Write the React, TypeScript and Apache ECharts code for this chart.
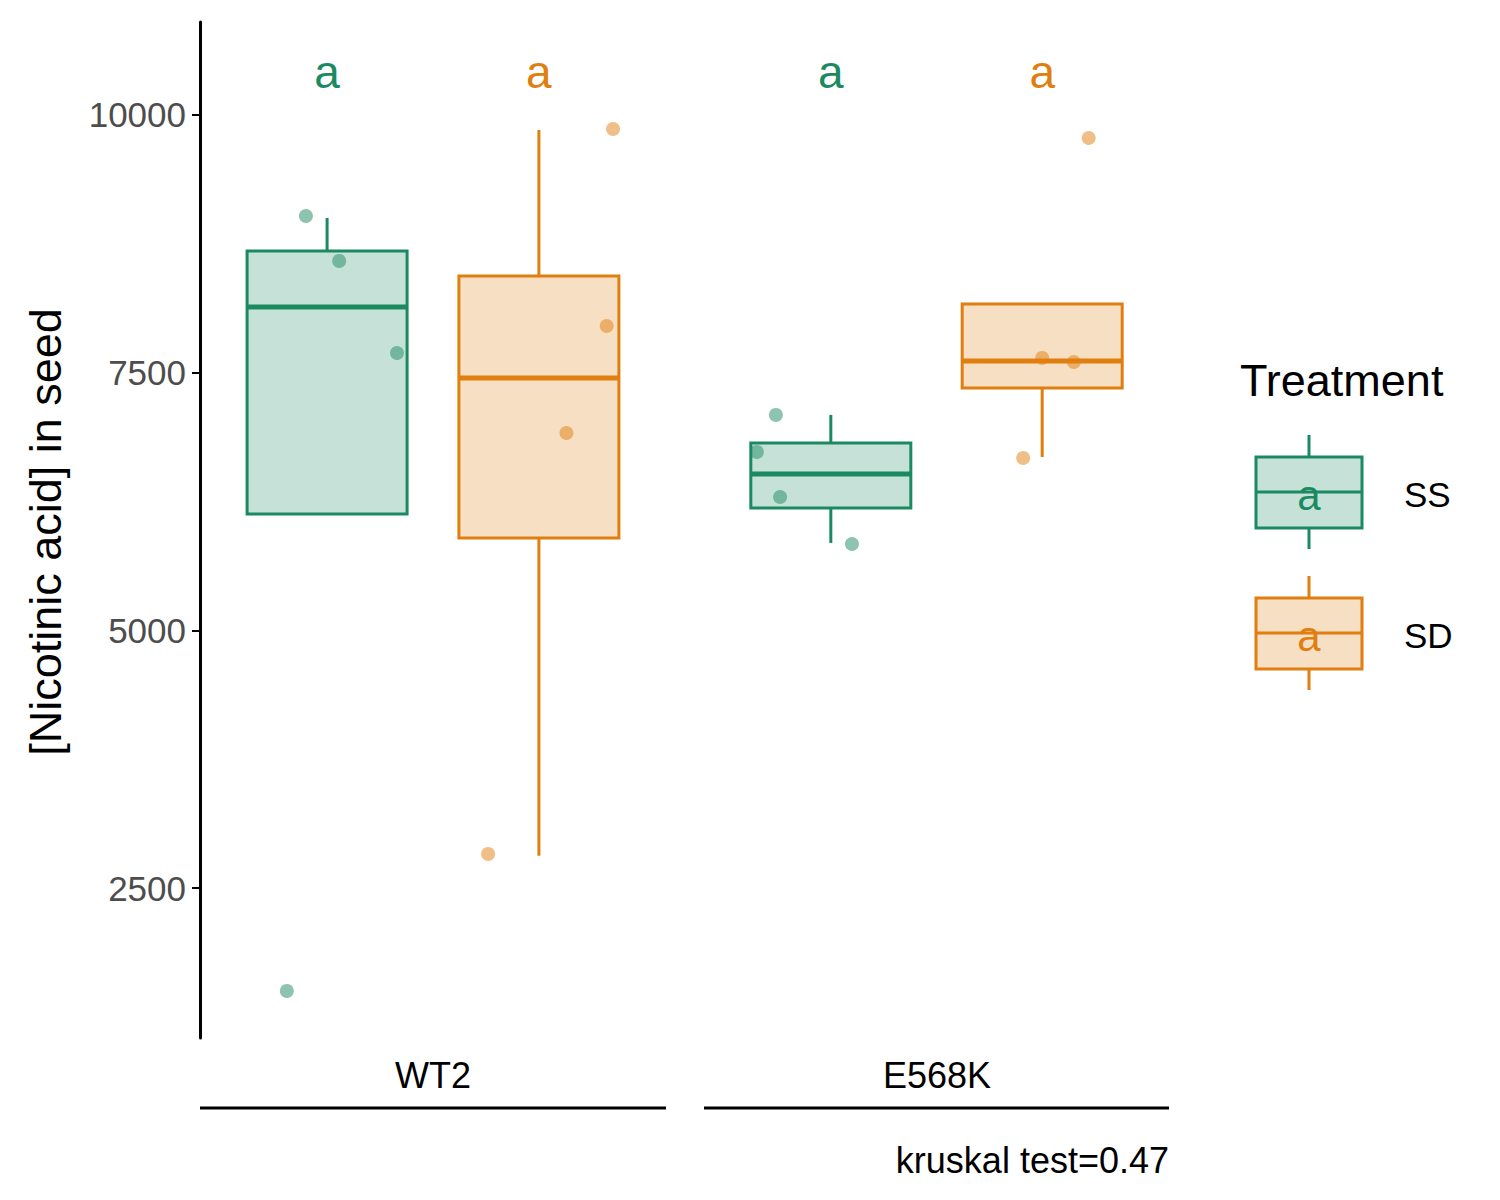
import React, { useEffect, useRef } from 'react';
import * as echarts from 'echarts';

const facets = ['WT2', 'E568K'];
const treatments = ['SS', 'SD'];
// [min, q1, median, q3, max] per facet, per treatment
const boxStats = [
  [[6129, 6129, 8137, 8681, 9001], [2812, 5896, 7449, 8438, 9854]],
  [[5848, 6187, 6517, 6818, 7090], [6682, 7352, 7614, 8166, 8166]],
];
// jittered points: [x offset, value]
const pointsData = [
  [
    [[-0.1, 9020], [0.057, 8584], [0.33, 7691], [-0.19, 1502]],
    [[0.35, 9864], [0.32, 7953], [0.13, 6915], [-0.24, 2831]],
  ],
  [
    [[-0.26, 7090], [-0.35, 6731], [-0.24, 6294], [0.1, 5838]],
    [[0.0, 7643], [0.15, 7604], [-0.09, 6672], [0.22, 9777]],
  ],
];
const letters = ['a', 'a'];
const yTicks = [2500, 5000, 7500, 10000];
const colors = ['#1B8A62', '#E07F10'];
const fills = ['rgba(27,138,98,0.25)', 'rgba(224,127,16,0.25)'];
const ptColors = ['rgba(27,138,98,0.5)', 'rgba(224,127,16,0.5)'];

const FONT = 'Liberation Sans, Arial, sans-serif';

export default function App() {
  const ref = useRef<HTMLDivElement | null>(null);
  useEffect(() => {
    if (!ref.current) return;
    const chart = echarts.init(ref.current, null, { renderer: 'svg' });
    const grids = [
      { left: 200, width: 466, top: 22, height: 1016 },
      { left: 704, width: 465, top: 22, height: 1016 },
    ];
    const xAxis = grids.map((_, i) => ({
      type: 'value', gridIndex: i, min: -0.6, max: 1.6, show: false,
    }));
    const yAxis = grids.map((_, i) => ({
      type: 'value', gridIndex: i, min: 1045, max: 10902,
      show: i === 0,
      splitLine: { show: false },
      axisLine: { show: true, onZero: false, lineStyle: { color: '#000', width: 3 } },
      axisTick: { show: true, length: 8, lineStyle: { color: '#000', width: 2 }, customValues: yTicks },
      axisLabel: {
        color: '#4D4D4D', fontSize: 35, fontFamily: FONT, margin: 14, customValues: yTicks,
        formatter: (v: number) => String(v),
      },
    }));
    const series: any[] = [];
    facets.forEach((_, fi) => {
      treatments.forEach((t, ti) => {
        const s = boxStats[fi][ti];
        series.push({
          type: 'custom', xAxisIndex: fi, yAxisIndex: fi, name: t,
          data: [[ti, ...s]],
          renderItem: (params: any, api: any) => {
            const x = api.value(0);
            const cx = api.coord([x, api.value(3)])[0];
            const hw = 80;
            const y = (v: number) => api.coord([x, v])[1];
            const mn = y(api.value(1)), q1 = y(api.value(2)), md = y(api.value(3)), q3 = y(api.value(4)), mx = y(api.value(5));
            const ls = { stroke: colors[ti], lineWidth: 3 };
            return {
              type: 'group',
              children: [
                { type: 'line', shape: { x1: cx, y1: q3, x2: cx, y2: mx }, style: ls },
                { type: 'line', shape: { x1: cx, y1: q1, x2: cx, y2: mn }, style: ls },
                { type: 'rect', shape: { x: cx - hw, y: q3, width: hw * 2, height: q1 - q3 }, style: { fill: fills[ti], stroke: colors[ti], lineWidth: 3 } },
                { type: 'line', shape: { x1: cx - hw, y1: md, x2: cx + hw, y2: md }, style: { stroke: colors[ti], lineWidth: 5 } },
              ],
            };
          },
        });
        series.push({
          type: 'scatter', xAxisIndex: fi, yAxisIndex: fi,
          data: pointsData[fi][ti].map(([dx, v]) => [ti + dx, v]),
          symbolSize: 14, itemStyle: { color: ptColors[ti], opacity: 1 },
        });
        series.push({
          type: 'scatter', xAxisIndex: fi, yAxisIndex: fi,
          data: [[ti, 10417]], symbolSize: 0, itemStyle: { opacity: 1 },
          label: { show: true, position: 'inside', formatter: letters[ti], color: colors[ti], fontSize: 46, fontFamily: FONT },
        });
      });
    });

    const legendKey = (i: number, top: number) => ({
      type: 'group', x: 1256, y: top,
      children: [
        { type: 'line', shape: { x1: 53, y1: -22, x2: 53, y2: 0 }, style: { stroke: colors[i], lineWidth: 3 } },
        { type: 'line', shape: { x1: 53, y1: 71, x2: 53, y2: 92 }, style: { stroke: colors[i], lineWidth: 3 } },
        { type: 'rect', shape: { x: 0, y: 0, width: 106, height: 71 }, style: { fill: fills[i], stroke: colors[i], lineWidth: 3 } },
        { type: 'line', shape: { x1: 0, y1: 35, x2: 106, y2: 35 }, style: { stroke: colors[i], lineWidth: 3 } },
        { type: 'text', x: 53, y: 38, style: { text: 'a', fill: colors[i], font: `42px ${FONT}`, align: 'center', verticalAlign: 'middle' } },
        { type: 'text', x: 148, y: 37, style: { text: treatments[i], fill: '#000', font: `35px ${FONT}`, verticalAlign: 'middle' } },
      ],
    });

    chart.setOption({
      animation: false,
      grid: grids,
      xAxis, yAxis, series,
      graphic: [
        { type: 'text', x: 1240, y: 380, style: { text: 'Treatment', fill: '#000', font: `45px ${FONT}`, verticalAlign: 'middle' } },
        legendKey(0, 457),
        legendKey(1, 598),
        { type: 'text', x: 45, y: 532, rotation: Math.PI / 2, style: { text: '[Nicotinic acid] in seed', fill: '#000', font: `45px ${FONT}`, align: 'center', verticalAlign: 'middle' } },
        { type: 'text', x: 433, y: 1075, style: { text: facets[0], fill: '#000', font: `36px ${FONT}`, align: 'center', verticalAlign: 'middle' } },
        { type: 'text', x: 937, y: 1075, style: { text: facets[1], fill: '#000', font: `36px ${FONT}`, align: 'center', verticalAlign: 'middle' } },
        { type: 'line', shape: { x1: 200, y1: 1108, x2: 666, y2: 1108 }, style: { stroke: '#000', lineWidth: 3 } },
        { type: 'line', shape: { x1: 704, y1: 1108, x2: 1169, y2: 1108 }, style: { stroke: '#000', lineWidth: 3 } },
        { type: 'text', x: 1169, y: 1160, style: { text: 'kruskal test=0.47', fill: '#000', font: `36px ${FONT}`, align: 'right', verticalAlign: 'middle' } },
      ],
    });
    return () => chart.dispose();
  }, []);
  return <div ref={ref} style={{ position: 'absolute', left: 0, top: 0, width: 1500, height: 1200, background: '#fff' }} />;
}
